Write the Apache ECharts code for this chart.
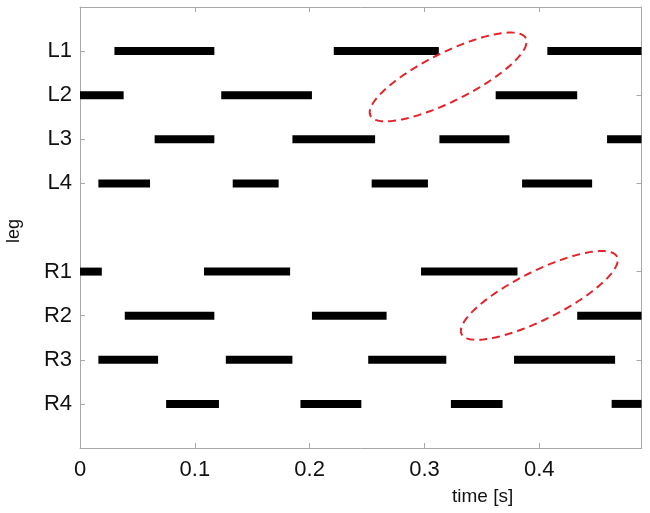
<!DOCTYPE html>
<html>
<head>
<meta charset="utf-8">
<script src="https://cdn.jsdelivr.net/npm/echarts@6/dist/echarts.min.js"></script>
<style>html,body{margin:0;padding:0;background:#fff;}#c{width:650px;height:513px;}</style>
</head>
<body>
<div id="c"></div>
<script>
// Row labels (blank entries are empty slots)
const rows = [' ', 'L1', 'L2', 'L3', 'L4', '  ', 'R1', 'R2', 'R3', 'R4', '   '];
const xTicks = [0, 0.1, 0.2, 0.3, 0.4];
const xMax = 0.489;

// Segments [start, end] per row (seconds)
const L1 = [[0.030, 0.117], [0.221, 0.3125], [0.407, 0.489]];
const L2 = [[0.000, 0.038], [0.123, 0.202], [0.362, 0.433]];
const L3 = [[0.065, 0.117], [0.185, 0.257], [0.313, 0.374], [0.459, 0.489]];
const L4 = [[0.016, 0.061], [0.133, 0.173], [0.254, 0.303], [0.385, 0.446]];
const R1 = [[0.000, 0.019], [0.108, 0.183], [0.297, 0.381]];
const R2 = [[0.039, 0.117], [0.202, 0.267], [0.433, 0.489]];
const R3 = [[0.016, 0.068], [0.127, 0.185], [0.251, 0.319], [0.378, 0.466]];
const R4 = [[0.075, 0.121], [0.192, 0.245], [0.323, 0.368], [0.463, 0.489]];

// Highlight ellipses: [centerTime, centerRow]
const ellipseCenters = [[0.3206, 1.586], [0.400, 6.54]];
const ellipseSemiMajor = 0.0756; // seconds
const ellipseSemiMinor = 0.0211; // seconds
const ellipseAngle = 26.5; // degrees

const segRows = {L1: L1, L2: L2, L3: L3, L4: L4, R1: R1, R2: R2, R3: R3, R4: R4};
const segData = [];
Object.keys(segRows).forEach(function (name) {
  const idx = rows.indexOf(name);
  segRows[name].forEach(function (s) { segData.push([idx, s[0], s[1]]); });
});

const fontFam = '"Liberation Sans", Arial, Helvetica, sans-serif';
const axisGray = '#a8a8a8';
const txt = '#111111';
const isLabeled = function (idx, val) { return String(val).trim() !== ''; };

const chart = echarts.init(document.getElementById('c'), null, {renderer: 'canvas'});
chart.setOption({
  animation: false,
  backgroundColor: '#ffffff',
  grid: {left: 80, right: 8.5, top: 7, bottom: 65, containLabel: false, outerBoundsMode: 'none'},
  xAxis: [{
    type: 'value', min: 0, max: xMax, interval: 0.1, position: 'bottom',
    axisLine: {show: true, onZero: false, lineStyle: {color: axisGray, width: 1}},
    axisTick: {show: true, inside: true, length: 5, lineStyle: {color: axisGray}},
    splitLine: {show: false},
    axisLabel: {
      showMaxLabel: false, margin: 11, color: txt, fontSize: 22, fontFamily: fontFam,
      formatter: function (v) { return Math.abs(v * 10 - Math.round(v * 10)) < 1e-6 && xTicks.indexOf(Math.round(v * 10) / 10) >= 0 ? String(Math.round(v * 10) / 10) : ''; }
    }
  }, {
    type: 'value', min: 0, max: xMax, interval: 0.1, position: 'top',
    axisLine: {show: true, onZero: false, lineStyle: {color: axisGray, width: 1}},
    axisTick: {show: true, inside: true, length: 5, lineStyle: {color: axisGray}},
    splitLine: {show: false}, axisLabel: {show: false}
  }],
  yAxis: [{
    type: 'category', data: rows, inverse: true, boundaryGap: false, position: 'left',
    axisLine: {show: true, onZero: false, lineStyle: {color: axisGray, width: 1}},
    axisTick: {show: true, inside: true, length: 5, interval: isLabeled, lineStyle: {color: axisGray}},
    axisLabel: {interval: 0, margin: 8, color: txt, fontSize: 22, fontFamily: fontFam},
    splitLine: {show: false}
  }, {
    type: 'category', data: rows, inverse: true, boundaryGap: false, position: 'right',
    axisLine: {show: true, onZero: false, lineStyle: {color: axisGray, width: 1}},
    axisTick: {show: true, inside: true, length: 5, interval: isLabeled, lineStyle: {color: axisGray}},
    axisLabel: {show: false}, splitLine: {show: false}
  }],
  graphic: [
    {type: 'text', left: 452, top: 487, style: {text: 'time [s]', fontSize: 19, fontFamily: fontFam, fill: txt}},
    {type: 'text', x: 5, y: 243, rotation: Math.PI / 2, style: {text: 'leg', fontSize: 18, fontFamily: fontFam, fill: txt, textVerticalAlign: 'top'}}
  ],
  series: [{
    type: 'custom',
    xAxisIndex: 0, yAxisIndex: 0,
    data: segData,
    encode: {x: [1, 2], y: 0},
    renderItem: function (params, api) {
      const p0 = api.coord([api.value(1), api.value(0)]);
      const p1 = api.coord([api.value(2), api.value(0)]);
      const h = 8;
      return {type: 'rect', shape: {x: p0[0], y: p0[1] - h / 2, width: p1[0] - p0[0], height: h},
        style: {fill: '#000000'}};
    }
  }, {
    type: 'custom',
    xAxisIndex: 0, yAxisIndex: 0,
    data: ellipseCenters,
    encode: {x: 0, y: 1},
    renderItem: function (params, api) {
      const cx = api.value(0), cy = api.value(1);
      const fl = Math.floor(cy), fr = cy - fl;
      const pa = api.coord([cx, fl]);
      const pb = api.coord([cx, fl + 1]);
      const px = pa[0];
      const py = pa[1] + (pb[1] - pa[1]) * fr;
      const a = api.size([ellipseSemiMajor, 0])[0];
      const b = api.size([ellipseSemiMinor, 0])[0];
      const th = ellipseAngle * Math.PI / 180;
      const pts = [];
      for (let i = 0; i < 180; i++) {
        const t = i / 180 * Math.PI * 2;
        const ex = a * Math.cos(t), ey = b * Math.sin(t);
        pts.push([px + ex * Math.cos(th) - ey * Math.sin(th), py - (ex * Math.sin(th) + ey * Math.cos(th))]);
      }
      return {type: 'polygon', shape: {points: pts},
        style: {fill: 'none', stroke: '#e4242b', lineWidth: 2, lineDash: [8, 5]}};
    }
  }]
});
</script>
</body>
</html>
